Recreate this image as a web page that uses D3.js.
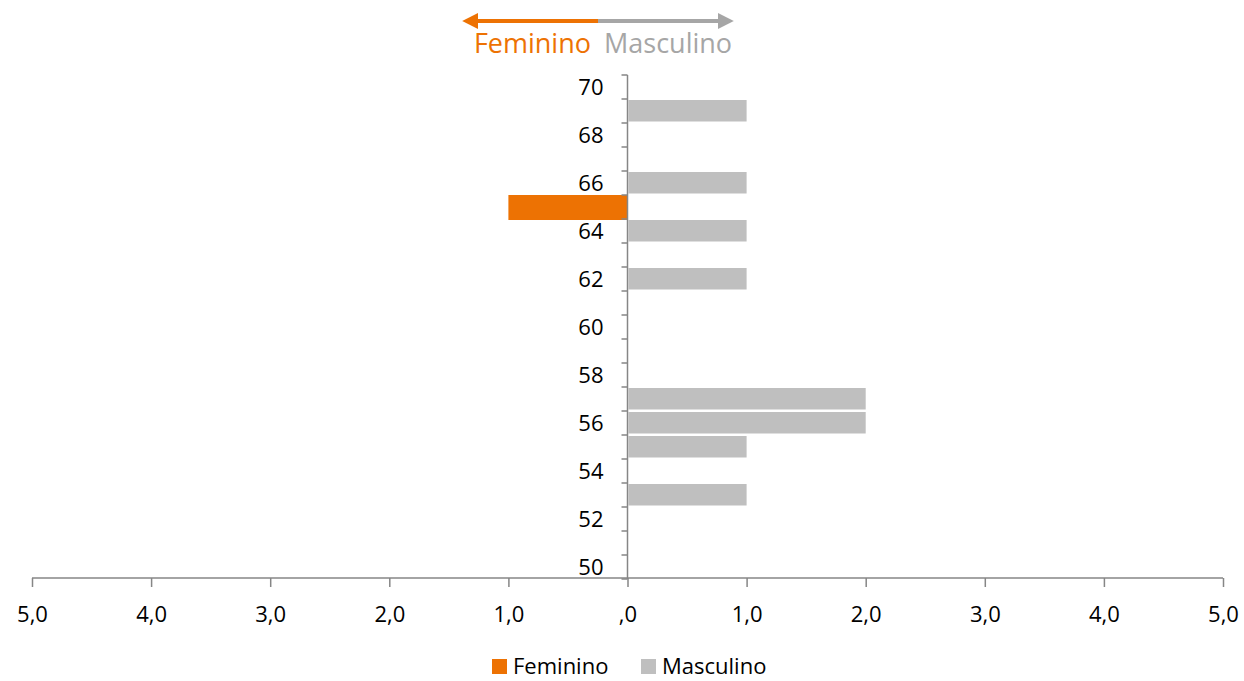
<!DOCTYPE html>
<html><head><meta charset="utf-8">
<script src="https://cdn.jsdelivr.net/npm/d3@7"></script>
<style>body{margin:0;background:#fff}svg{display:block;font-family:"Open Sans",sans-serif}</style>
</head><body>
<svg id="c" width="1244" height="681"></svg>
<script>
const ages = [70,69,68,67,66,65,64,63,62,61,60,59,58,57,56,55,54,53,52,51,50];
const feminino = [0,0,0,0,0,1,0,0,0,0,0,0,0,0,0,0,0,0,0,0,0];
const masculino = [0,1,0,0,1,0,1,0,1,0,0,0,0,2,2,1,0,1,0,0,0];
const xTicks = [-5,-4,-3,-2,-1,0,1,2,3,4,5];
const xTickLabels = ["5,0","4,0","3,0","2,0","1,0",",0","1,0","2,0","3,0","4,0","5,0"];
const seriesNames = ["Feminino","Masculino"];

const FONT = "'Open Sans',sans-serif";
const ORANGE = "#ED7203", GRAY = "#BFBFBF", AXIS = "#868686", ARROWGRAY = "#A6A6A6";
const svg = d3.select("#c");
const x = d3.scaleLinear().domain([-5,5]).range([32,1223]);
const y = d3.scaleBand().domain(ages).range([75,579]).padding(0);
const x0 = x(0);

// bars
const g = svg.append("g");
g.selectAll(".m").data(ages.map((a,i)=>({a,v:masculino[i]})).filter(d=>d.v>0))
 .join("rect").attr("x",x0+1).attr("y",d=>y(d.a)+1).attr("width",d=>x(d.v)-x0-1)
 .attr("height",y.bandwidth()-2.5).attr("fill",GRAY);
g.selectAll(".f").data(ages.map((a,i)=>({a,v:feminino[i]})).filter(d=>d.v>0))
 .join("rect").attr("x",d=>x(-d.v)).attr("y",d=>y(d.a)).attr("width",d=>x0-x(-d.v))
 .attr("height",y.bandwidth()+1).attr("fill",ORANGE);

// x axis
const xa = svg.append("g").attr("transform","translate(0,578)")
 .call(d3.axisBottom(x).tickValues(xTicks).tickSize(9).tickFormat((d,i)=>xTickLabels[i]));
xa.select(".domain").attr("stroke",AXIS).attr("stroke-width",1.5).attr("d","M32,0H1223");
xa.selectAll(".tick line").attr("stroke",AXIS).attr("stroke-width",1.5);
xa.selectAll("text").attr("y",44).attr("dy",null).attr("font-size",22).attr("fill","#000").attr("font-family",FONT);

// y axis
const ya = svg.append("g").attr("transform",`translate(${x0},0)`);
ya.append("line").attr("x1",0).attr("x2",0).attr("y1",75).attr("y2",579).attr("stroke",AXIS).attr("stroke-width",1.5);
const bounds = ages.map(a=>y(a)).concat([y(50)+y.bandwidth()]);
ya.selectAll(".tk").data(bounds).join("line").attr("x1",-6).attr("x2",0)
 .attr("y1",d=>d).attr("y2",d=>d).attr("stroke",AXIS).attr("stroke-width",1.5);
ya.selectAll(".lb").data(ages.filter(a=>a%2===0)).join("text")
 .attr("x",-24).attr("y",d=>y(d)+y.bandwidth()/2+7.5)
 .attr("text-anchor","end").attr("font-size",22).attr("fill","#000").text(d=>d);

// top arrows
const defs = svg.append("defs");
function marker(id,color){
  defs.append("marker").attr("id",id).attr("viewBox","0 0 10 10").attr("refX",2).attr("refY",5)
   .attr("markerWidth",4).attr("markerHeight",4).attr("orient","auto-start-reverse")
   .append("path").attr("d","M0,0L10,5L0,10Z").attr("fill",color);
}
marker("ao",ORANGE); marker("ag",ARROWGRAY);
svg.append("line").attr("x1",598).attr("x2",475).attr("y1",21).attr("y2",21)
 .attr("stroke",ORANGE).attr("stroke-width",4).attr("marker-end","url(#ao)");
svg.append("line").attr("x1",598).attr("x2",721).attr("y1",21).attr("y2",21)
 .attr("stroke",ARROWGRAY).attr("stroke-width",4).attr("marker-end","url(#ag)");
svg.append("text").attr("x",591).attr("y",53).attr("text-anchor","end").attr("font-size",27)
 .attr("fill",ORANGE).text(seriesNames[0]);
svg.append("text").attr("x",604).attr("y",53).attr("font-size",27)
 .attr("fill",ARROWGRAY).text(seriesNames[1]);

// bottom legend
const leg = [{n:seriesNames[0],c:ORANGE,x:492},{n:seriesNames[1],c:GRAY,x:641}];
const lg = svg.append("g");
lg.selectAll("rect").data(leg).join("rect").attr("x",d=>d.x).attr("y",659).attr("width",15).attr("height",15).attr("fill",d=>d.c);
lg.selectAll("text").data(leg).join("text").attr("x",d=>d.x+21).attr("y",674).attr("font-size",22).attr("fill","#000").text(d=>d.n);
</script>
</body></html>
